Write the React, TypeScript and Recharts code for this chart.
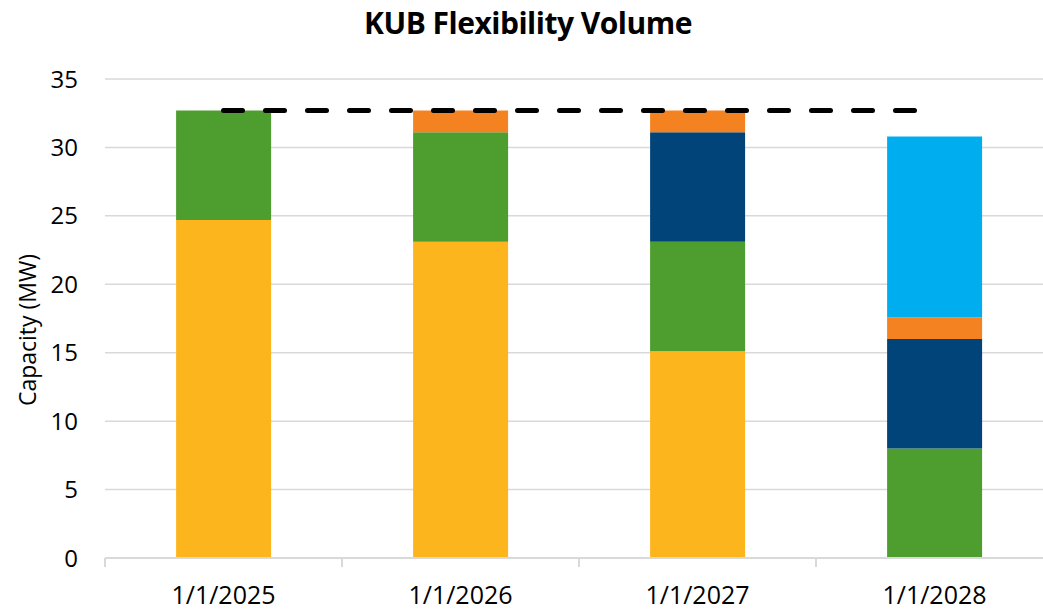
import React from "react";
import {
  ComposedChart,
  Bar,
  Line,
  XAxis,
  YAxis,
  CartesianGrid,
} from "recharts";

const categories = ["1/1/2025", "1/1/2026", "1/1/2027", "1/1/2028"];
const yellowVals = [24.7, 23.1, 15.1, 0];
const greenVals = [8.0, 8.0, 8.0, 8.0];
const navyVals = [0, 0, 8.0, 8.0];
const orangeVals = [0, 1.6, 1.6, 1.6];
const blueVals = [0, 0, 0, 13.2];
const limitVals = [32.7, 32.7, 32.7, 32.7];
const yTicks = [0, 5, 10, 15, 20, 25, 30, 35];

const data = categories.map((date, i) => ({
  date,
  yellow: yellowVals[i],
  green: greenVals[i],
  navy: navyVals[i],
  orange: orangeVals[i],
  blue: blueVals[i],
  limit: limitVals[i],
}));

const FONT = "'Open Sans', sans-serif";
const GRID = "#D9D9D9";

const XTick = (props: any) => {
  const { x, y, payload, index } = props;
  const half = payload?.offset || 118.5;
  return (
    <g>
      <line x1={x - half} y1={y} x2={x - half} y2={y + 9} stroke={GRID} strokeWidth={2} />
      {index === categories.length - 1 && (
        <line x1={x + half} y1={y} x2={x + half} y2={y + 9} stroke={GRID} strokeWidth={2} />
      )}
      <text
        x={x}
        y={y + 46}
        textAnchor="middle"
        fill="#000"
        fontSize={25}
        fontFamily={FONT}
      >
        {payload.value}
      </text>
    </g>
  );
};

export default function App() {
  return (
    <div
      style={{
        position: "absolute",
        left: 0,
        top: 0,
        width: 1043,
        height: 613,
        overflow: "hidden",
        background: "#fff",
        fontFamily: FONT,
      }}
    >
      <div
        style={{
          position: "absolute",
          left: 228,
          width: 600,
          top: 2,
          textAlign: "center",
          fontSize: 30,
          fontWeight: 700,
          letterSpacing: -0.5,
          color: "#000",
        }}
      >
        KUB Flexibility Volume
      </div>
      <div
        style={{
          position: "absolute",
          left: 27,
          top: 330,
          transform: "translate(-50%, -50%) rotate(-90deg)",
          whiteSpace: "nowrap",
          fontSize: 23,
          color: "#000",
        }}
      >
        Capacity (MW)
      </div>
      <ComposedChart
        width={1060}
        height={613}
        data={data}
        margin={{ top: 79, right: 7, bottom: 0, left: 0 }}
        barCategoryGap="30%"
      >
        <CartesianGrid vertical={false} stroke={GRID} strokeWidth={1.5} />
        <XAxis
          dataKey="date"
          height={55}
          axisLine={{ stroke: GRID, strokeWidth: 2 }}
          tickLine={false}
          tickSize={0}
          tickMargin={0}
          tick={<XTick />}
          interval={0}
        />
        <YAxis
          width={105}
          domain={[0, 35]}
          ticks={yTicks}
          axisLine={false}
          tickLine={false}
          tickMargin={21}
          tick={{ fill: "#000", fontSize: 24, fontFamily: FONT }}
        />
        <Bar dataKey="yellow" stackId="a" fill="#FDB51E" isAnimationActive={false} />
        <Bar dataKey="green" stackId="a" fill="#4E9D2F" isAnimationActive={false} />
        <Bar dataKey="navy" stackId="a" fill="#004479" isAnimationActive={false} />
        <Bar dataKey="orange" stackId="a" fill="#F58220" isAnimationActive={false} />
        <Bar dataKey="blue" stackId="a" fill="#00AEEF" isAnimationActive={false} />
        <Line
          dataKey="limit"
          type="linear"
          stroke="#000"
          strokeWidth={5}
          strokeDasharray="19 23"
          strokeLinecap="round"
          dot={false}
          activeDot={false}
          isAnimationActive={false}
        />
      </ComposedChart>
    </div>
  );
}
